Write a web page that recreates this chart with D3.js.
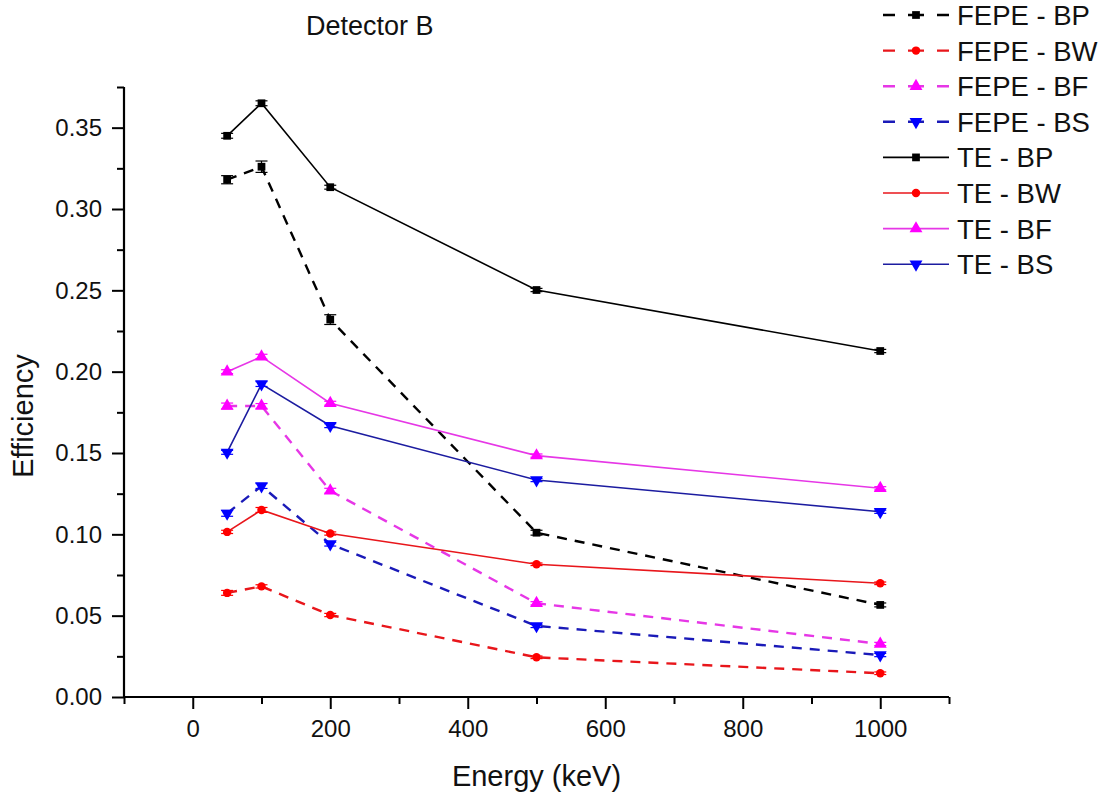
<!DOCTYPE html>
<html>
<head>
<meta charset="utf-8">
<script src="https://cdn.jsdelivr.net/npm/d3@7"></script>
<style>
  html, body { margin: 0; padding: 0; background: #fff; }
  svg { display: block; font-family: "Liberation Sans", Arial, sans-serif; }
</style>
</head>
<body>
<svg id="chart" width="1113" height="796"></svg>
<script>
// ---- data ----
const energies = [50, 100, 200, 500, 1000];
const xMajorTicks = [0, 200, 400, 600, 800, 1000];
const xMinorTicks = [-100, 100, 300, 500, 700, 900, 1100];
const yMajorTicks = [0, 0.05, 0.10, 0.15, 0.20, 0.25, 0.30, 0.35];
const yMinorTicks = [0.025, 0.075, 0.125, 0.175, 0.225, 0.275, 0.325, 0.375];

const fepeBP = [0.318, 0.326, 0.232, 0.101, 0.0566];
const fepeBPErr = [0.0025, 0.0035, 0.003, 0.0015, 0.0012];
const fepeBW = [0.064, 0.068, 0.0504, 0.0244, 0.0146];
const fepeBWErr = [0.0015, 0.001, 0.001, 0.0008, 0.0008];
const fepeBF = [0.1789, 0.1789, 0.1268, 0.0576, 0.0326];
const fepeBFErr = [0.0018, 0.0015, 0.0015, 0.001, 0.001];
const fepeBS = [0.1129, 0.1297, 0.094, 0.0437, 0.0258];
const fepeBSErr = [0.0018, 0.0015, 0.0012, 0.001, 0.001];
const teBP = [0.345, 0.365, 0.3134, 0.2502, 0.2127];
const teBPErr = [0.0015, 0.0015, 0.0012, 0.001, 0.001];
const teBW = [0.1015, 0.115, 0.1005, 0.0816, 0.0699];
const teBWErr = [0.001, 0.0015, 0.001, 0.0008, 0.0008];
const teBF = [0.200, 0.2092, 0.1806, 0.1484, 0.1283];
const teBFErr = [0.0012, 0.0015, 0.0012, 0.001, 0.001];
const teBS = [0.1504, 0.1924, 0.1668, 0.1334, 0.1139];
const teBSErr = [0.0012, 0.0015, 0.0012, 0.001, 0.001];

const seriesNames = ["FEPE - BP", "FEPE - BW", "FEPE - BF", "FEPE - BS",
                     "TE - BP", "TE - BW", "TE - BF", "TE - BS"];
const seriesValues = [fepeBP, fepeBW, fepeBF, fepeBS, teBP, teBW, teBF, teBS];
const seriesErrors = [fepeBPErr, fepeBWErr, fepeBFErr, fepeBSErr, teBPErr, teBWErr, teBFErr, teBSErr];

// ---- styles ----
const lineColors = ["#000000", "#e8161b", "#e637e6", "#1a1ab8", "#000000", "#e8161b", "#e637e6", "#1c1ca0"];
const markerColors = ["#000000", "#ff0000", "#ff00ff", "#0000ff", "#000000", "#ff0000", "#ff00ff", "#0000ff"];
const dashed = [true, true, true, true, false, false, false, false];
const shapes = ["square", "circle", "up", "down", "square", "circle", "up", "down"];

const svg = d3.select("#chart");
const x = d3.scaleLinear().domain([-100, 1100]).range([124, 949]);
const y = d3.scaleLinear().domain([0, 0.375]).range([697, 87]);

// axes
const xAxisG = svg.append("g").attr("transform", `translate(0,${y(0)})`);
xAxisG.call(d3.axisBottom(x).tickValues(xMinorTicks).tickSize(7).tickFormat(""))
  .call(g => g.select(".domain").remove());
xAxisG.append("g").call(d3.axisBottom(x).tickValues(xMajorTicks).tickSize(12).tickPadding(11).tickFormat(d3.format("d")))
  .call(g => g.select(".domain").remove());
xAxisG.append("line").attr("x1", x(-100)).attr("x2", x(1100)).attr("y1", 0).attr("y2", 0)
  .attr("stroke", "#000").attr("stroke-width", 2.2);

const yAxisG = svg.append("g").attr("transform", `translate(${x(-100)},0)`);
yAxisG.call(d3.axisLeft(y).tickValues(yMinorTicks).tickSize(7).tickFormat(""))
  .call(g => g.select(".domain").remove());
yAxisG.append("g").call(d3.axisLeft(y).tickValues(yMajorTicks).tickSize(12).tickPadding(10).tickFormat(d3.format(".2f")))
  .call(g => g.select(".domain").remove());
yAxisG.append("line").attr("x1", 0).attr("x2", 0).attr("y1", y(0)).attr("y2", y(0.375))
  .attr("stroke", "#000").attr("stroke-width", 2.2);

svg.selectAll(".tick line").attr("stroke", "#000").attr("stroke-width", 2);
svg.selectAll(".tick text").attr("font-size", 24).attr("fill", "#111")
  .attr("font-family", "'Liberation Sans', Arial, sans-serif");

// titles
svg.append("text").attr("x", x(500)).attr("y", 786).attr("text-anchor", "middle")
  .attr("font-size", 29).attr("fill", "#111").text("Energy (keV)");
svg.append("text").attr("transform", "translate(33,416) rotate(-90)").attr("text-anchor", "middle")
  .attr("font-size", 29).attr("fill", "#111").text("Efficiency");
svg.append("text").attr("x", 306).attr("y", 35)
  .attr("font-size", 27).attr("fill", "#111").text("Detector B");

function symbolPath(shape) {
  if (shape === "square") return d3.symbol(d3.symbolSquare, 60)();
  if (shape === "circle") return d3.symbol(d3.symbolCircle, 56)();
  return d3.symbol(d3.symbolTriangle, 72)();
}
function drawMarker(g, shape, cx, cy, color) {
  g.append("path").attr("d", symbolPath(shape))
    .attr("transform", `translate(${cx},${cy})` + (shape === "down" ? " rotate(180)" : ""))
    .attr("fill", color);
}

const lineGen = d3.line().x(d => x(d[0])).y(d => y(d[1]));

// draw series (FEPE first, then TE)
seriesValues.forEach((vals, i) => {
  const g = svg.append("g");
  const pts = energies.map((e, j) => [e, vals[j]]);
  g.append("path").attr("d", lineGen(pts)).attr("fill", "none")
    .attr("stroke", lineColors[i]).attr("stroke-width", dashed[i] ? 2.4 : 1.6)
    .attr("stroke-dasharray", dashed[i] ? "10,8" : null);
  pts.forEach((p, j) => {
    const err = seriesErrors[i][j];
    const cx = x(p[0]);
    const y1 = y(p[1] - err), y2 = y(p[1] + err);
    g.append("line").attr("x1", cx).attr("x2", cx).attr("y1", y1).attr("y2", y2)
      .attr("stroke", markerColors[i]).attr("stroke-width", 1.2);
    [y1, y2].forEach(yy => g.append("line").attr("x1", cx - 6).attr("x2", cx + 6)
      .attr("y1", yy).attr("y2", yy).attr("stroke", markerColors[i]).attr("stroke-width", 1.2));
    drawMarker(g, shapes[i], cx, y(p[1]), markerColors[i]);
  });
});

// legend
const legend = svg.append("g");
seriesNames.forEach((name, i) => {
  const cy = 15 + i * 35.6;
  legend.append("line").attr("x1", 883).attr("x2", 949).attr("y1", cy).attr("y2", cy)
    .attr("stroke", lineColors[i]).attr("stroke-width", dashed[i] ? 2.4 : 1.6)
    .attr("stroke-dasharray", dashed[i] ? "12,13,16,13,12" : null);
  drawMarker(legend, shapes[i], 916, cy, markerColors[i]);
  legend.append("text").attr("x", 957).attr("y", cy + 10)
    .attr("font-size", 27.5).attr("fill", "#111").text(name);
});
</script>
</body>
</html>
